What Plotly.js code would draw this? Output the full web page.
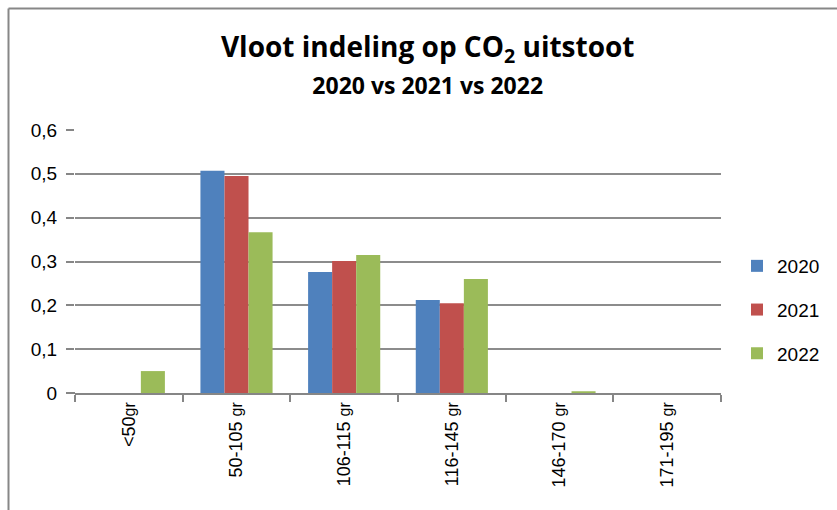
<!DOCTYPE html>
<html>
<head>
<meta charset="utf-8">
<script src="https://cdn.plot.ly/plotly-3.0.1.min.js"></script>
<style>html,body{margin:0;padding:0;background:#fff;}#chart{width:837px;height:510px;}</style>
</head>
<body>
<div id="chart"></div>
<script>
var categories = ["<50gr", "50-105 gr", "106-115 gr", "116-145 gr", "146-170 gr", "171-195 gr"];
var values2020 = [0, 0.507, 0.276, 0.212, 0, 0];
var values2021 = [0, 0.495, 0.301, 0.205, 0, 0];
var values2022 = [0.050, 0.367, 0.315, 0.260, 0.004, 0];
var seriesNames = ["2020", "2021", "2022"];
var yTicks = [0, 0.1, 0.2, 0.3, 0.4, 0.5, 0.6];

var colors = ["#4F81BD", "#C0504D", "#9BBB59"];
var series = [values2020, values2021, values2022];
var traces = series.map(function (v, i) {
  return {
    type: "bar",
    x: categories,
    y: v,
    name: seriesNames[i],
    legendgroup: seriesNames[i],
    marker: { color: colors[i], line: { width: 0 } },
    hoverinfo: "skip"
  };
});

var L = 75, R = 721, T = 130, B = 393;
var W = 837, H = 510;
var pw = R - L, ph = B - T;
function px(x) { return (x - L) / pw; }
function py(y) { return (B - y) / ph; }

var tickLabels = categories.map(function (c) {
  return c.replace("<", "&lt;").replace("gr", "<span style='font-size:16px'>gr</span>");
});

var layout = {
  width: W, height: H,
  margin: { l: L, r: W - R, t: T, b: H - B, pad: 0 },
  paper_bgcolor: "#ffffff",
  plot_bgcolor: "#ffffff",
  separators: ",.",
  font: { family: "Liberation Sans, Arial, sans-serif", color: "#000000" },
  title: {
    text: "<b>Vloot indeling op CO<sub>2</sub> uitstoot</b><br><b><span style='font-size:23px'>2020 vs 2021 vs 2022</span></b>",
    font: { family: "Open Sans, Lato, sans-serif", size: 28, color: "#000000" },
    x: 0.511, xanchor: "center",
    y: 0.888, yanchor: "middle"
  },
  barmode: "group",
  bargap: 0.33,
  bargroupgap: 0,
  showlegend: true,
  legend: {
    x: px(737), xanchor: "left",
    y: py(310), yanchor: "middle",
    font: { size: 19, family: "Liberation Sans, Arial, sans-serif" },
    tracegroupgap: 16,
    itemwidth: 30,
    bgcolor: "rgba(0,0,0,0)"
  },
  xaxis: {
    type: "category",
    tickangle: -90,
    tickvals: categories,
    ticktext: tickLabels,
    tickfont: { size: 18 },
    showline: true, linecolor: "#868686", linewidth: 2,
    ticks: "outside", tickson: "boundaries", ticklen: 7, tickcolor: "#868686", tickwidth: 2,
    showgrid: false, zeroline: false,
    range: [-0.5, 5.5]
  },
  yaxis: {
    range: [0, 0.6],
    tickvals: yTicks,
    ticktext: yTicks.map(function (t) { return t === 0 ? "0" : t.toFixed(1).replace(".", ","); }),
    tickfont: { size: 19 },
    showline: false,
    ticks: "outside", ticklen: 8, tickcolor: "#868686", tickwidth: 2,
    ticklabelstandoff: 5,
    showgrid: true, gridcolor: "#8c8c8c", gridwidth: 2,
    zeroline: false
  },
  shapes: [
    { type: "line", xref: "paper", yref: "paper", x0: px(8.5), x1: px(840), y0: py(8.5), y1: py(8.5), line: { color: "#878787", width: 2 } },
    { type: "line", xref: "paper", yref: "paper", x0: px(8.5), x1: px(8.5), y0: py(8.5), y1: py(515), line: { color: "#878787", width: 2 } },
    { type: "line", xref: "paper", yref: "paper", x0: px(68), x1: px(75), y0: 0, y1: 0, line: { color: "#868686", width: 2 } }
  ]
};

Plotly.newPlot("chart", traces, layout, { displayModeBar: false, staticPlot: true });
</script>
</body>
</html>
